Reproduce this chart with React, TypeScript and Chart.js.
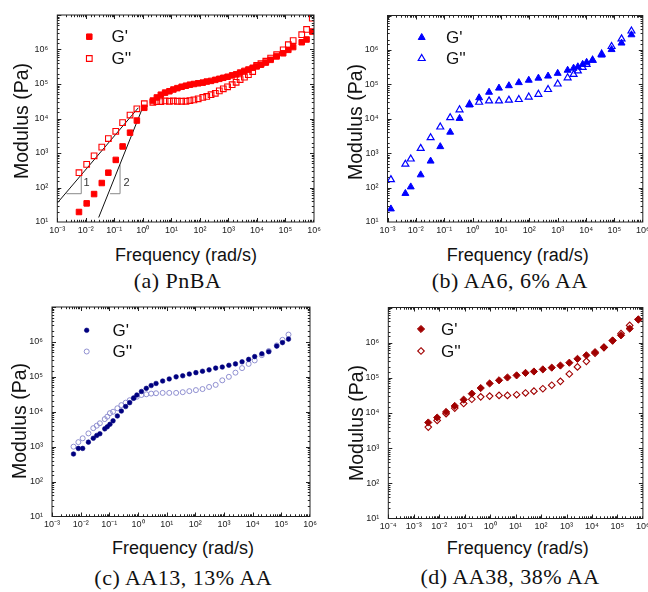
import React, { useEffect, useRef } from 'react';
import { Chart, registerables } from 'chart.js';

Chart.register(...registerables);

// ---------------- DATA (log10 values) ----------------
// (a) PnBA
const aFreq = [-2.24, -1.97, -1.71, -1.44, -1.21, -0.95, -0.71, -0.45, -0.21, 0.05,
  0.35, 0.49, 0.63, 0.78, 0.93, 1.07, 1.21, 1.36, 1.51, 1.65,
  1.79, 1.94, 2.10, 2.24, 2.39, 2.54, 2.68, 2.82, 2.97, 3.13,
  3.27, 3.41, 3.56, 3.70, 3.85, 3.99, 4.14, 4.31, 4.48, 4.69,
  4.92, 5.10, 5.27, 5.57, 5.74, 5.94];
const aStorage = [1.29, 1.54, 1.81, 2.13, 2.43, 2.80, 3.19, 3.59, 3.94, 4.31,
  4.52, 4.61, 4.69, 4.75, 4.79, 4.84, 4.88, 4.92, 4.95, 4.98,
  5.00, 5.02, 5.04, 5.07, 5.09, 5.12, 5.15, 5.18, 5.21, 5.25,
  5.28, 5.33, 5.38, 5.42, 5.47, 5.51, 5.56, 5.62, 5.70, 5.80,
  5.89, 5.99, 6.07, 6.21, 6.29, 6.52];
const aLoss = [2.43, 2.67, 2.92, 3.17, 3.42, 3.63, 3.88, 4.10, 4.28, 4.43,
  4.47, 4.49, 4.49, 4.51, 4.50, 4.51, 4.50, 4.50, 4.50, 4.52,
  4.54, 4.57, 4.61, 4.64, 4.69, 4.73, 4.80, 4.86, 4.92, 4.98,
  5.05, 5.13, 5.20, 5.27, 5.36, 5.54, 5.59, 5.66, 5.75, 5.85,
  5.99, 6.14, 6.26, 6.43, 6.58, 6.91];
// slope guide lines and triangles in (a)
const slope1Freq = [-3.0, -0.16];
const slope1Mod = [1.55, 4.31];
const slope2Freq = [-1.55, 0.0];
const slope2Mod = [1.13, 4.33];
const tri1Freq = [-2.68, -2.16, -2.16];
const tri1Mod = [1.82, 1.82, 2.37];
const tri2Freq = [-1.15, -0.80, -0.80];
const tri2Mod = [1.82, 1.82, 2.66];
const slopeLabels = ['1', '2'];
const slopeLabelFreq = [-1.97, -0.57];
const slopeLabelMod = [2.13, 2.13];

// (b) AA6, 6% AA
const bFreq = [-2.88, -2.37, -2.18, -1.83, -1.48, -1.14, -0.79, -0.46, -0.11, 0.23,
  0.58, 0.93, 1.28, 1.63, 1.98, 2.32, 2.66, 3.00, 3.35, 3.56,
  3.71, 3.88, 4.02, 4.23, 4.55, 4.90, 5.25, 5.60];
const bStorage = [1.38, 1.83, 2.02, 2.37, 2.77, 3.19, 3.61, 4.01, 4.40, 4.61,
  4.77, 4.89, 4.96, 5.05, 5.12, 5.18, 5.24, 5.32, 5.41, 5.47,
  5.51, 5.58, 5.64, 5.70, 5.85, 6.01, 6.20, 6.44];
const bLoss = [2.23, 2.68, 2.83, 3.14, 3.45, 3.76, 4.03, 4.26, 4.42, 4.48,
  4.52, 4.52, 4.54, 4.56, 4.63, 4.71, 4.85, 5.01, 5.19, 5.29,
  5.39, 5.49, 5.58, 5.70, 5.88, 6.10, 6.32, 6.55];

// (c) AA13, 13% AA
const cFreq = [-2.25, -2.08, -1.93, -1.73, -1.56, -1.44, -1.33, -1.16, -1.07, -0.98,
  -0.87, -0.72, -0.58, -0.43, -0.29, -0.15, -0.04, 0.12, 0.29, 0.46,
  0.63, 0.86, 1.09, 1.33, 1.56, 1.79, 2.02, 2.25, 2.48, 2.71,
  2.94, 3.17, 3.40, 3.63, 3.86, 4.07, 4.32, 4.56, 4.84, 5.04, 5.25];
const cStorage = [2.79, 2.95, 2.95, 3.13, 3.24, 3.32, 3.37, 3.51, 3.57, 3.64,
  3.74, 3.88, 4.02, 4.15, 4.26, 4.39, 4.48, 4.58, 4.67, 4.75,
  4.81, 4.88, 4.94, 5.00, 5.03, 5.08, 5.12, 5.16, 5.20, 5.25,
  5.28, 5.33, 5.37, 5.43, 5.50, 5.58, 5.66, 5.72, 5.88, 5.98, 6.08];
const cLoss = [3.00, 3.13, 3.24, 3.38, 3.53, 3.60, 3.67, 3.79, 3.86, 3.96,
  4.00, 4.10, 4.19, 4.26, 4.33, 4.39, 4.43, 4.48, 4.50, 4.52,
  4.53, 4.54, 4.54, 4.54, 4.56, 4.59, 4.62, 4.65, 4.71, 4.77,
  4.90, 5.00, 5.12, 5.25, 5.37, 5.47, 5.62, 5.74, 5.90, 6.06, 6.21];

// (d) AA38, 38% AA
const dFreq = [-2.43, -2.08, -1.73, -1.39, -1.04, -0.72, -0.37, -0.02, 0.35, 0.68,
  1.04, 1.39, 1.72, 2.07, 2.42, 2.76, 3.11, 3.43, 3.78, 4.12,
  4.47, 4.81, 5.14, 5.48, 5.82];
const dStorage = [3.73, 3.87, 4.03, 4.20, 4.38, 4.55, 4.71, 4.84, 4.93, 5.01,
  5.07, 5.14, 5.18, 5.24, 5.29, 5.35, 5.43, 5.54, 5.64, 5.73,
  5.87, 6.06, 6.21, 6.40, 6.66];
const dLoss = [3.60, 3.79, 3.98, 4.14, 4.27, 4.39, 4.46, 4.48, 4.50, 4.50,
  4.52, 4.57, 4.62, 4.69, 4.79, 4.90, 5.11, 5.31, 5.47, 5.70,
  5.86, 6.06, 6.26, 6.49, 6.66];

// tick labels
const xTickLabels = ['10⁻³', '10⁻²', '10⁻¹', '10⁰', '10¹', '10²', '10³', '10⁴', '10⁵', '10⁶'];
const xTickLabelsD = ['10⁻⁴', '10⁻³', '10⁻²', '10⁻¹', '10⁰', '10¹', '10²', '10³', '10⁴', '10⁵', '10⁶'];
const yTickLabels = ['10¹', '10²', '10³', '10⁴', '10⁵', '10⁶'];

const seriesNames = ["G'", "G''"];
const xTitle = 'Frequency (rad/s)';
const yTitle = 'Modulus (Pa)';
const captions = ['(a) PnBA', '(b) AA6, 6% AA', '(c) AA13, 13% AA', '(d) AA38, 38% AA'];

// ---------------- helpers ----------------
const SANS = "'Liberation Sans', Arial, Helvetica, sans-serif";
const SERIF = "'Liberation Serif', 'Times New Roman', serif";

const pts = (fx: number[], gy: number[]) =>
  fx.map((f, i) => ({ x: Math.pow(10, f), y: Math.pow(10, gy[i]) }));

function labelFor(value: number, labels: string[], minExp: number) {
  const e = Math.log10(value);
  const r = Math.round(e);
  if (Math.abs(e - r) > 1e-6) return '';
  const l = labels[r - minExp];
  return l === undefined ? '' : l;
}

function drawMarker(ctx: CanvasRenderingContext2D, style: string, x: number, y: number, r: number,
  color: string, filled: boolean, bw: number) {
  ctx.beginPath();
  if (style === 'rect') {
    const s = r * Math.SQRT1_2;
    ctx.rect(x - s, y - s, 2 * s, 2 * s);
  } else if (style === 'triangle') {
    for (let k = 0; k < 3; k++) {
      const a = (k * 2 * Math.PI) / 3;
      const px = x + Math.sin(a) * r;
      const py = y - Math.cos(a) * r;
      if (k === 0) ctx.moveTo(px, py); else ctx.lineTo(px, py);
    }
    ctx.closePath();
  } else if (style === 'circle') {
    ctx.arc(x, y, r, 0, Math.PI * 2);
  } else {
    ctx.moveTo(x, y - r); ctx.lineTo(x + r, y); ctx.lineTo(x, y + r); ctx.lineTo(x - r, y);
    ctx.closePath();
  }
  if (filled) { ctx.fillStyle = color; ctx.fill(); }
  if (bw > 0) { ctx.lineWidth = bw; ctx.strokeStyle = color; ctx.stroke(); }
}

const framePlugin = {
  id: 'frameDeco',
  afterDatasetsDraw(chart: any, _args: any, opts: any) {
    const { ctx, chartArea } = chart;
    const { left, right, top, bottom } = chartArea;
    ctx.save();
    ctx.strokeStyle = '#222';
    ctx.lineWidth = 1;
    ctx.strokeRect(left, top, right - left, bottom - top);
    const seg = (x1: number, y1: number, x2: number, y2: number) => {
      ctx.beginPath(); ctx.moveTo(x1, y1); ctx.lineTo(x2, y2); ctx.stroke();
    };
    const xs = chart.scales.x;
    const ys = chart.scales.y;
    for (const t of xs.ticks) {
      const e = Math.log10(t.value);
      const major = Math.abs(e - Math.round(e)) < 1e-6;
      const len = major ? 4 : 2.2;
      const p = Math.round(xs.getPixelForValue(t.value)) + 0.5;
      if (p < left || p > right) continue;
      seg(p, bottom, p, bottom - len);
      seg(p, top, p, top + len);
    }
    for (const t of ys.ticks) {
      const e = Math.log10(t.value);
      const major = Math.abs(e - Math.round(e)) < 1e-6;
      const len = major ? 4 : 2.2;
      const p = Math.round(ys.getPixelForValue(t.value)) + 0.5;
      if (p < top || p > bottom) continue;
      seg(left, p, left + len, p);
      seg(right, p, right - len, p);
    }
    // legend
    const off = opts.offset;
    for (const it of opts.legend) {
      const mx = it.mx - off.x;
      const my = it.my - off.y;
      drawMarker(ctx, it.style, mx, my, it.radius, it.color, it.filled, it.bw);
      ctx.fillStyle = '#111';
      ctx.font = `17px ${SANS}`;
      ctx.textAlign = 'left';
      ctx.textBaseline = 'middle';
      ctx.fillText(it.text, it.tx - off.x, my + 1);
    }
    // notes (slope labels)
    for (const n of opts.notes) {
      ctx.fillStyle = '#333';
      ctx.font = `11px ${SANS}`;
      ctx.textAlign = 'center';
      ctx.textBaseline = 'middle';
      ctx.fillText(n.text, xs.getPixelForValue(n.x), ys.getPixelForValue(n.y));
    }
    ctx.restore();
  },
};

interface PanelCfg {
  left: number; top: number; w: number; h: number;
  area: { l: number; r: number; t: number; b: number };
  xMinExp: number; xMaxExp: number; xLabels: string[];
  datasets: any[]; legend: any[]; notes: any[];
}

function Panel({ cfg }: { cfg: PanelCfg }) {
  const ref = useRef<HTMLCanvasElement>(null);
  useEffect(() => {
    const { area } = cfg;
    const padTop = area.t - cfg.top;
    const padRight = cfg.left + cfg.w - area.r;
    const yWidth = area.l - cfg.left;
    const xHeight = cfg.top + cfg.h - area.b;
    const chart = new Chart(ref.current as HTMLCanvasElement, {
      type: 'scatter',
      data: { datasets: cfg.datasets },
      plugins: [framePlugin as any],
      options: {
        responsive: false,
        animation: false,
        events: [],
        layout: { padding: { top: padTop, right: padRight, left: 0, bottom: 0 } },
        scales: {
          x: {
            type: 'logarithmic', position: 'bottom',
            min: Math.pow(10, cfg.xMinExp), max: Math.pow(10, cfg.xMaxExp),
            grid: { display: false, drawTicks: false },
            border: { display: false },
            ticks: {
              autoSkip: false, maxRotation: 0, minRotation: 0, padding: 3,
              color: '#222', font: { family: SANS, size: 9 },
              callback: (v: any) => labelFor(Number(v), cfg.xLabels, cfg.xMinExp),
            },
            afterFit: (s: any) => { s.height = xHeight; s.paddingLeft = 0; s.paddingRight = 0; },
          },
          y: {
            type: 'logarithmic', position: 'left', min: 10, max: 1e7,
            grid: { display: false, drawTicks: false },
            border: { display: false },
            ticks: {
              autoSkip: false, padding: 9,
              color: '#222', font: { family: SANS, size: 9 },
              callback: (v: any) => labelFor(Number(v), yTickLabels, 1),
            },
            afterFit: (s: any) => { s.width = yWidth; s.paddingTop = 0; s.paddingBottom = 0; },
          },
        } as any,
        plugins: {
          legend: { display: false },
          tooltip: { enabled: false },
          frameDeco: { legend: cfg.legend, notes: cfg.notes, offset: { x: cfg.left, y: cfg.top } },
        } as any,
      },
    });
    return () => chart.destroy();
  }, [cfg]);
  return (
    <canvas ref={ref} width={cfg.w} height={cfg.h}
      style={{ position: 'absolute', left: cfg.left, top: cfg.top, width: cfg.w, height: cfg.h }} />
  );
}

function marker(style: string, color: string, filled: boolean, radius: number, bw: number) {
  return {
    pointStyle: style, pointRadius: radius, pointBorderWidth: bw,
    pointBackgroundColor: filled ? color : 'rgba(0,0,0,0)', pointBorderColor: color,
    borderColor: color, backgroundColor: filled ? color : 'rgba(0,0,0,0)', showLine: false,
  };
}

function guide(fx: number[], gy: number[], color: string) {
  return {
    data: pts(fx, gy), showLine: true, borderColor: color, borderWidth: 1,
    pointRadius: 0, fill: false, tension: 0,
  };
}

const RED = '#ff0000';
const BLUE = '#0000ff';
const NAVY = '#000080';
const LAVENDER = '#8585cc';
const DARKRED = '#a00000';

const panels: PanelCfg[] = [
  {
    left: 0, top: 0, w: 324, h: 240,
    area: { l: 57.3, r: 314, t: 15, b: 222 },
    xMinExp: -3, xMaxExp: 6, xLabels: xTickLabels,
    datasets: [
      { label: seriesNames[0], data: pts(aFreq, aStorage), ...marker('rect', RED, true, 3.9, 1) },
      { label: seriesNames[1], data: pts(aFreq, aLoss), ...marker('rect', RED, false, 4.0, 1.1) },
      guide(slope1Freq, slope1Mod, '#111'),
      guide(slope2Freq, slope2Mod, '#111'),
      guide(tri1Freq, tri1Mod, '#888'),
      guide(tri2Freq, tri2Mod, '#888'),
    ],
    legend: [
      { style: 'rect', color: RED, filled: true, radius: 3.9, bw: 1, mx: 89.3, my: 36.7, tx: 111.5, text: seriesNames[0] },
      { style: 'rect', color: RED, filled: false, radius: 4.0, bw: 1.1, mx: 89.3, my: 58.5, tx: 111.5, text: seriesNames[1] },
    ],
    notes: slopeLabels.map((t, i) => ({ text: t, x: Math.pow(10, slopeLabelFreq[i]), y: Math.pow(10, slopeLabelMod[i]) })),
  },
  {
    left: 324, top: 0, w: 324, h: 240,
    area: { l: 387.5, r: 646, t: 15.5, b: 222 },
    xMinExp: -3, xMaxExp: 6, xLabels: xTickLabels,
    datasets: [
      { label: seriesNames[0], data: pts(bFreq, bStorage), ...marker('triangle', BLUE, true, 4.0, 1) },
      { label: seriesNames[1], data: pts(bFreq, bLoss), ...marker('triangle', BLUE, false, 4.0, 1.2) },
    ],
    legend: [
      { style: 'triangle', color: BLUE, filled: true, radius: 4.0, bw: 1, mx: 421.7, my: 37.5, tx: 446, text: seriesNames[0] },
      { style: 'triangle', color: BLUE, filled: false, radius: 4.0, bw: 1.2, mx: 421.7, my: 58.5, tx: 446, text: seriesNames[1] },
    ],
    notes: [],
  },
  {
    left: 0, top: 295, w: 324, h: 240,
    area: { l: 52, r: 310, t: 307, b: 516.5 },
    xMinExp: -3, xMaxExp: 6, xLabels: xTickLabels,
    datasets: [
      { label: seriesNames[0], data: pts(cFreq, cStorage), ...marker('circle', NAVY, true, 2.3, 0.6) },
      { label: seriesNames[1], data: pts(cFreq, cLoss), ...marker('circle', LAVENDER, false, 2.5, 0.9) },
    ],
    legend: [
      { style: 'circle', color: NAVY, filled: true, radius: 2.3, bw: 0.6, mx: 86.7, my: 330.3, tx: 112.5, text: seriesNames[0] },
      { style: 'circle', color: LAVENDER, filled: false, radius: 2.5, bw: 0.9, mx: 86.7, my: 351.5, tx: 112.5, text: seriesNames[1] },
    ],
    notes: [],
  },
  {
    left: 324, top: 295, w: 324, h: 240,
    area: { l: 388.3, r: 645.3, t: 307.5, b: 518.5 },
    xMinExp: -4, xMaxExp: 6, xLabels: xTickLabelsD,
    datasets: [
      { label: seriesNames[0], data: pts(dFreq, dStorage), ...marker('rectRot', DARKRED, true, 3.6, 1) },
      { label: seriesNames[1], data: pts(dFreq, dLoss), ...marker('rectRot', DARKRED, false, 3.3, 1.1) },
    ],
    legend: [
      { style: 'rectRot', color: DARKRED, filled: true, radius: 3.6, bw: 1, mx: 421, my: 329, tx: 441, text: seriesNames[0] },
      { style: 'rectRot', color: DARKRED, filled: false, radius: 3.3, bw: 1.1, mx: 421, my: 351, tx: 441, text: seriesNames[1] },
    ],
    notes: [],
  },
];

const yTitlePos = [[21.7, 121], [355.7, 122], [20, 421], [357.3, 423]];
const xTitlePos = [[186, 255], [517.7, 255], [183, 548], [517.7, 548]];
const captionPos = [[177.5, 281], [509.8, 281], [183.3, 578], [510, 577]];

function Text({ x, y, text, font, size, rotate, spacing }: { x: number; y: number; text: string; font: string; size: number; rotate?: boolean; spacing?: number }) {
  return (
    <div style={{
      position: 'absolute', left: x, top: y, whiteSpace: 'nowrap',
      transform: `translate(-50%, -50%)${rotate ? ' rotate(-90deg)' : ''}`,
      fontFamily: font, fontSize: size, lineHeight: 1, color: '#111',
      letterSpacing: spacing ? `${spacing}px` : undefined,
    }}>{text}</div>
  );
}

export default function App() {
  return (
    <div style={{ position: 'absolute', left: 0, top: 0, width: 648, height: 592, overflow: 'hidden', background: '#fff' }}>
      {panels.map((p, i) => <Panel key={i} cfg={p} />)}
      {yTitlePos.map((p, i) => <Text key={'y' + i} x={p[0]} y={p[1]} text={yTitle} font={SANS} size={19.5} rotate />)}
      {xTitlePos.map((p, i) => <Text key={'x' + i} x={p[0]} y={p[1]} text={xTitle} font={SANS} size={18} />)}
      {captionPos.map((p, i) => <Text key={'c' + i} x={p[0]} y={p[1]} text={captions[i]} font={SERIF} size={22} spacing={0.5} />)}
    </div>
  );
}
